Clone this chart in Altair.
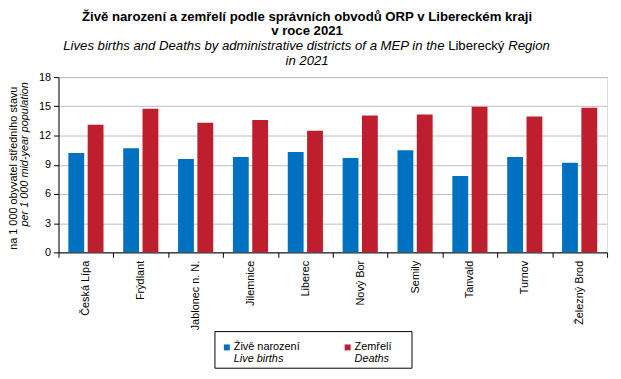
import altair as alt
import pandas as pd

districts = ["Česká Lípa", "Frýdlant", "Jablonec n. N.", "Jilemnice", "Liberec",
             "Nový Bor", "Semily", "Tanvald", "Turnov", "Železný Brod"]
births = [10.2, 10.7, 9.6, 9.8, 10.3, 9.7, 10.5, 7.85, 9.8, 9.2]
deaths = [13.1, 14.75, 13.3, 13.6, 12.5, 14.05, 14.15, 14.95, 13.95, 14.85]
series = ["Živě narození", "Zemřelí"]
series_en = ["Live births", "Deaths"]
colors = ["#0070C0", "#BE1E2D"]
y_ticks = [0, 3, 6, 9, 12, 15, 18]

FONT = "Liberation Sans"

rows = []
for d, b, m in zip(districts, births, deaths):
    rows.append({"district": d, "series": series[0], "value": b})
    rows.append({"district": d, "series": series[1], "value": m})
df = pd.DataFrame(rows)

W, H = 554, 177

bars = alt.Chart(df).mark_bar().encode(
    x=alt.X("district:N", sort=districts,
            scale=alt.Scale(paddingInner=0, paddingOuter=0),
            axis=alt.Axis(title=None, labelAngle=270, tickBand="extent",
                          labelFontSize=11, labelFont=FONT, labelColor="black",
                          domainColor="black", tickColor="black", tickSize=5,
                          labelPadding=3, grid=False, labelLimit=200)),
    xOffset=alt.XOffset("series:N", sort=series,
                        scale=alt.Scale(paddingInner=0.18, paddingOuter=0.51)),
    y=alt.Y("value:Q", scale=alt.Scale(domain=[0, 18], nice=False),
            axis=alt.Axis(title=None, values=y_ticks, labelFontSize=11,
                          labelFont=FONT, labelColor="black", domainColor="black",
                          tickColor="black", tickSize=5, labelPadding=3,
                          gridColor="#BDBDBD", gridWidth=1)),
    color=alt.Color("series:N", sort=series,
                    scale=alt.Scale(domain=series, range=colors), legend=None),
)

one = alt.Data(values=[{}])


def txt(text, x, y, size=11, weight="normal", style="normal", align="center",
        angle=0):
    return alt.Chart(one).mark_text(
        font=FONT, fontSize=size, fontWeight=weight, fontStyle=style,
        align=align, baseline="middle", angle=angle, color="black"
    ).encode(x=alt.value(x), y=alt.value(y), text=alt.value(text))


texts = [
    txt("Živě narození a zemřelí podle správních obvodů ORP v Libereckém kraji",
        251, -61, 13.3, "bold"),
    txt("v roce 2021", 251, -47, 13.3, "bold"),
    txt("Lives births and Deaths by administrative districts of a MEP in the",
        389.8, -31, 13.3, style="italic", align="right"),
    txt("Liberecký", 393.5, -31, 13.3, align="left"),
    txt("Region", 454.2, -31, 13.3, style="italic", align="left"),
    txt("in 2021", 251, -16, 13.3, style="italic"),
    txt("na 1 000 obyvatel středního stavu", -45, 92, 11, angle=270),
    txt("per 1 000  mid-year population", -34, 78, 11, style="italic", angle=270),
]

box = alt.Chart(one).mark_rect(fill="white", stroke="black", strokeWidth=1).encode(
    x=alt.value(158), x2=alt.value(357), y=alt.value(257), y2=alt.value(294))

legend_parts = [box]
for i, (cz, en, col) in enumerate(zip(series, series_en, colors)):
    sx = 170 + i * 122
    legend_parts.append(
        alt.Chart(one).mark_square(size=36, color=col, opacity=1).encode(
            x=alt.value(sx), y=alt.value(273)))
    legend_parts.append(txt(cz, sx + 7, 273, 11, align="left"))
    legend_parts.append(txt(en, sx + 7, 285, 11, style="italic", align="left"))

chart = alt.layer(bars, *texts, *legend_parts).properties(
    width=W, height=H,
    padding={"left": 51, "top": 68, "right": 6, "bottom": 116},
    autosize=alt.AutoSizeParams(type="none"),
).configure_view(stroke="black", strokeWidth=1).configure(background="white")

chart.save("out.html", embed_options={"renderer": "svg", "actions": False})
